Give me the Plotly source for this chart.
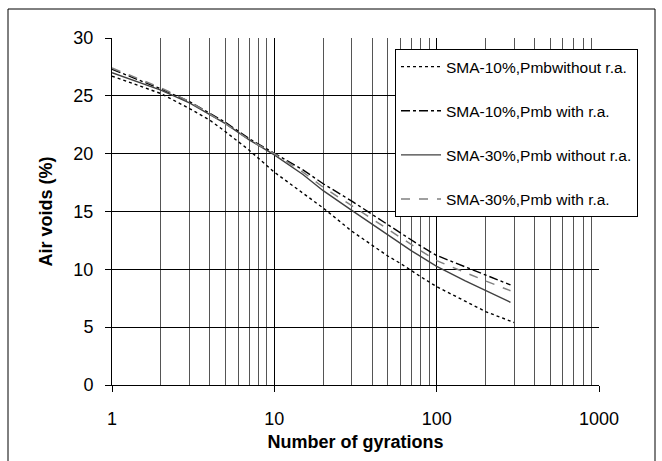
import plotly.graph_objects as go

# ---- data ----
gyr = [1, 2, 3, 4, 5, 7, 10, 15, 20, 30, 40, 50, 60, 70, 80, 100, 150, 200, 285]
gyr_dot = [1, 2, 3, 4, 5, 7, 10, 15, 20, 30, 40, 50, 60, 70, 80, 100, 150, 200, 300]

sma10_without = [26.7, 25.2, 23.9, 22.9, 21.9, 20.3, 18.4, 16.6, 15.3, 13.3, 12.1, 11.15, 10.5, 9.85, 9.35, 8.5, 7.25, 6.35, 5.4]
sma10_with = [27.3, 25.6, 24.5, 23.5, 22.7, 21.3, 20.05, 18.6, 17.4, 15.9, 14.75, 13.85, 13.1, 12.5, 12.0, 11.2, 10.2, 9.5, 8.65]
sma30_without = [27.0, 25.5, 24.4, 23.4, 22.6, 21.2, 19.9, 18.2, 16.8, 15.1, 13.9, 13.0, 12.2, 11.6, 11.1, 10.25, 9.0, 8.15, 7.15]
sma30_with = [27.4, 25.7, 24.5, 23.4, 22.6, 21.2, 20.0, 18.4, 17.1, 15.5, 14.35, 13.45, 12.7, 12.1, 11.6, 10.75, 9.7, 9.0, 8.15]

names = ["SMA-10%,Pmbwithout r.a.", "SMA-10%,Pmb with r.a.",
         "SMA-30%,Pmb without r.a.", "SMA-30%,Pmb with r.a."]
x_ticks = [1, 10, 100, 1000]
x_minor = [m * d for d in (1, 10, 100) for m in range(2, 10)]
y_ticks = [0, 5, 10, 15, 20, 25, 30]

W, H = 662, 461
L, R, T, B = 112, 599, 38, 385  # plot area in px


def px(x):
    return (x - L) / (R - L)


def py(y):
    return (B - y) / (B - T)


fig = go.Figure()
series = [
    (gyr_dot, sma10_without, names[0], "black", "dot", 1.4),
    (gyr, sma10_with, names[1], "black", "dashdot", 1.4),
    (gyr, sma30_without, names[2], "#404040", "solid", 1.4),
    (gyr, sma30_with, names[3], "#808080", "dash", 1.5),
]
for i, (xs, ys, nm, col, dash, w) in enumerate(series):
    fig.add_trace(go.Scatter(
        x=xs, y=ys, name=nm, mode="lines", legendgroup=str(i),
        line=dict(color=col, dash=dash, width=w),
    ))

font = "Liberation Sans, Arial, sans-serif"
fig.update_layout(
    width=W, height=H,
    margin=dict(l=L, r=W - R, t=T, b=H - B),
    paper_bgcolor="white", plot_bgcolor="white",
    font=dict(family=font, color="black", size=18),
    showlegend=True,
    legend=dict(
        x=px(395), y=py(49), xanchor="left", yanchor="top",
        bgcolor="white", bordercolor="black", borderwidth=1,
        font=dict(family=font, size=15.5, color="black"),
        tracegroupgap=21, itemwidth=40,
    ),
    xaxis=dict(
        type="log", range=[0, 3], tickvals=x_ticks,
        ticktext=[str(v) for v in x_ticks],
        showgrid=True, gridcolor="black", gridwidth=1,
        minor=dict(tickmode="array", tickvals=x_minor, showgrid=True,
                   gridcolor="#555555", gridwidth=1, ticks=""),
        showline=True, linecolor="black", linewidth=1,
        ticks="outside", ticklen=6, tickcolor="black",
        ticklabelstandoff=11,
        title=dict(text="<b>Number of gyrations</b>", standoff=7,
                   font=dict(size=18, family=font)),
        zeroline=False,
    ),
    yaxis=dict(
        range=[0, 30], tickvals=y_ticks,
        showgrid=True, gridcolor="black", gridwidth=1,
        showline=True, linecolor="black", linewidth=1,
        ticks="outside", ticklen=6, tickcolor="black",
        ticklabelstandoff=8,
        title=dict(text="<b>Air voids (%)</b>", standoff=16,
                   font=dict(size=18, family=font)),
        zeroline=False,
    ),
)

# outer frame (left, top, right)
fig.add_shape(type="line", xref="paper", yref="paper",
              x0=px(8), x1=px(8), y0=py(9), y1=py(470),
              line=dict(color="black", width=1))
fig.add_shape(type="line", xref="paper", yref="paper",
              x0=px(8), x1=px(655), y0=py(9), y1=py(9),
              line=dict(color="black", width=1))
fig.add_shape(type="line", xref="paper", yref="paper",
              x0=px(655), x1=px(655), y0=py(9), y1=py(470),
              line=dict(color="black", width=1))

fig.write_html("out.html")
